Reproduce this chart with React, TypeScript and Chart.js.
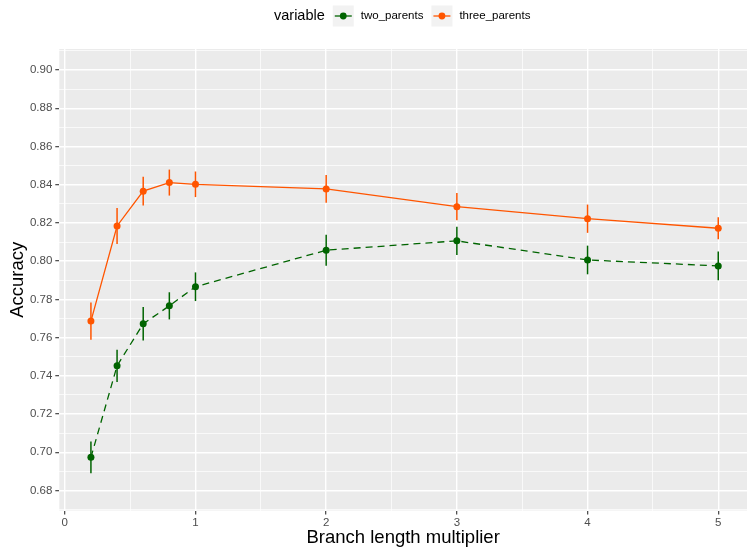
import React, { useEffect, useRef } from "react";
import { Chart, registerables } from "chart.js";

Chart.register(...registerables);

// ---- data ----
const xValues = [0.2, 0.4, 0.6, 0.8, 1, 2, 3, 4, 5];
const twoParents = [0.6973, 0.7452, 0.7672, 0.7766, 0.7866, 0.8057, 0.8106, 0.8006, 0.7975];
const twoParentsErr = [0.0083, 0.0084, 0.0088, 0.0071, 0.0075, 0.0081, 0.0074, 0.0075, 0.0075];
const threeParents = [0.7686, 0.8184, 0.8366, 0.8411, 0.8402, 0.8378, 0.8285, 0.8222, 0.8172];
const threeParentsErr = [0.0097, 0.0094, 0.0075, 0.0068, 0.0067, 0.0073, 0.0071, 0.0074, 0.0058];
const seriesNames = ["two_parents", "three_parents"];
const legendTitle = "variable";
const xTitle = "Branch length multiplier";
const yTitle = "Accuracy";
const xMajorTicks = [0, 1, 2, 3, 4, 5];
const xMinorTicks = [0.5, 1.5, 2.5, 3.5, 4.5];
const yMajorTicks = [0.68, 0.7, 0.72, 0.74, 0.76, 0.78, 0.8, 0.82, 0.84, 0.86, 0.88, 0.9];
const yMinorTicks = [0.67, 0.69, 0.71, 0.73, 0.75, 0.77, 0.79, 0.81, 0.83, 0.85, 0.87, 0.89, 0.91];

const GREEN = "#006400";
const ORANGE = "#FF5500";
const FONT = '"Liberation Sans", Arial, Helvetica, sans-serif';

const isIn = (arr: number[], v: number) => arr.some((m) => Math.abs(m - v) < 1e-9);

export default function App() {
  const ref = useRef<HTMLCanvasElement>(null);

  useEffect(() => {
    const canvas = ref.current!;
    const xTickValues = [...xMajorTicks, ...xMinorTicks].sort((a, b) => a - b);
    const yTickValues = [...yMajorTicks, ...yMinorTicks].sort((a, b) => a - b);
    const errs = [twoParentsErr, threeParentsErr];
    const colors = [GREEN, ORANGE];

    const bgPlugin = {
      id: "bg",
      beforeDraw(chart: any) {
        const { ctx, chartArea } = chart;
        ctx.save();
        ctx.fillStyle = "#FFFFFF";
        ctx.fillRect(0, 0, chart.width, chart.height);
        ctx.fillStyle = "#EBEBEB";
        ctx.fillRect(chartArea.left, chartArea.top, chartArea.right - chartArea.left, chartArea.bottom - chartArea.top);
        ctx.restore();
      },
    };

    const errorPlugin = {
      id: "errbars",
      beforeDatasetsDraw(chart: any) {
        const { ctx } = chart;
        const xs = chart.scales.x;
        const ys = chart.scales.y;
        ctx.save();
        chart.data.datasets.forEach((ds: any, i: number) => {
          ctx.strokeStyle = colors[i];
          ctx.lineWidth = 1.5;
          ctx.setLineDash([]);
          ds.data.forEach((p: any, j: number) => {
            const px = xs.getPixelForValue(p.x);
            const y1 = ys.getPixelForValue(p.y - errs[i][j]);
            const y2 = ys.getPixelForValue(p.y + errs[i][j]);
            ctx.beginPath();
            ctx.moveTo(px, y1);
            ctx.lineTo(px, y2);
            ctx.stroke();
          });
        });
        ctx.restore();
      },
    };

    const legendPlugin = {
      id: "ggLegend",
      afterDraw(chart: any) {
        const { ctx } = chart;
        const cy = 16;
        ctx.save();
        ctx.textBaseline = "middle";
        ctx.textAlign = "left";
        ctx.fillStyle = "#000000";
        ctx.font = `14.5px ${FONT}`;
        let x = 274;
        ctx.fillText(legendTitle, x, cy);
        x += ctx.measureText(legendTitle).width + 8;
        ctx.font = `11.5px ${FONT}`;
        seriesNames.forEach((name, i) => {
          ctx.fillStyle = "#F2F2F2";
          ctx.fillRect(x, cy - 10.5, 21, 21);
          ctx.strokeStyle = colors[i];
          ctx.lineWidth = 1.3;
          ctx.beginPath();
          ctx.moveTo(x + 2, cy);
          ctx.lineTo(x + 19, cy);
          ctx.stroke();
          ctx.fillStyle = colors[i];
          ctx.beginPath();
          ctx.arc(x + 10.5, cy, 3.4, 0, Math.PI * 2);
          ctx.fill();
          x += 21 + 7;
          ctx.fillStyle = "#000000";
          ctx.fillText(name, x, cy);
          x += ctx.measureText(name).width + 8;
        });
        ctx.restore();
      },
    };

    const gridOpts = (majors: number[]) => ({
      color: "#FFFFFF",
      lineWidth: (c: any) => (c.tick && isIn(majors, c.tick.value) ? 1.4 : 0.7),
      tickColor: (c: any) => (c.tick && isIn(majors, c.tick.value) ? "#333333" : "rgba(0,0,0,0)"),
      tickWidth: 1.1,
      tickLength: 4,
      drawTicks: true,
    });

    const chart = new Chart(canvas, {
      type: "line",
      data: {
        datasets: [
          {
            label: seriesNames[0],
            data: xValues.map((x, i) => ({ x, y: twoParents[i] })),
            borderColor: GREEN,
            backgroundColor: GREEN,
            borderWidth: 1.3,
            borderDash: [7, 5],
            pointRadius: 3.5,
            pointBorderWidth: 0,
            pointBackgroundColor: GREEN,
            tension: 0,
          },
          {
            label: seriesNames[1],
            data: xValues.map((x, i) => ({ x, y: threeParents[i] })),
            borderColor: ORANGE,
            backgroundColor: ORANGE,
            borderWidth: 1.3,
            pointRadius: 3.5,
            pointBorderWidth: 0,
            pointBackgroundColor: ORANGE,
            tension: 0,
          },
        ],
      },
      options: {
        responsive: false,
        animation: false,
        layout: { autoPadding: false, padding: { top: 49, left: 0, right: 0, bottom: 0 } },
        plugins: { legend: { display: false }, tooltip: { enabled: false } },
        scales: {
          x: {
            type: "linear",
            min: -0.042,
            max: 5.22,
            afterBuildTicks: (s: any) => {
              s.ticks = xTickValues.map((v) => ({ value: v }));
            },
            afterFit: (s: any) => {
              s.height = 39.5;
              s.paddingLeft = 0;
              s.paddingRight = 0;
            },
            ticks: {
              autoSkip: false,
              maxRotation: 0,
              minRotation: 0,
              padding: 1.5,
              color: "#4D4D4D",
              font: { family: FONT, size: 11.5 },
              callback: (v: any) => (isIn(xMajorTicks, Number(v)) ? String(v) : ""),
            },
            grid: gridOpts(xMajorTicks) as any,
            border: { display: false },
            title: {
              display: true,
              text: xTitle,
              color: "#000000",
              font: { family: FONT, size: 18.5 },
              padding: { top: 0, bottom: 1 },
            },
          },
          y: {
            type: "linear",
            min: 0.6695,
            max: 0.911,
            afterBuildTicks: (s: any) => {
              s.ticks = yTickValues.map((v) => ({ value: v }));
            },
            afterFit: (s: any) => {
              s.width = 59.3;
              s.paddingTop = 0;
              s.paddingBottom = 0;
            },
            ticks: {
              autoSkip: false,
              padding: 3,
              color: "#4D4D4D",
              font: { family: FONT, size: 11.5 },
              callback: (v: any) => (isIn(yMajorTicks, Number(v)) ? Number(v).toFixed(2) : ""),
            },
            grid: gridOpts(yMajorTicks) as any,
            border: { display: false },
            title: {
              display: true,
              text: yTitle,
              color: "#000000",
              font: { family: FONT, size: 18.5 },
              padding: { top: 6.5, bottom: 0 },
            },
          },
        },
      },
      plugins: [bgPlugin, errorPlugin, legendPlugin],
    } as any);

    return () => chart.destroy();
  }, []);

  return (
    <div style={{ position: "absolute", left: 0, top: 0, width: 747, height: 550 }}>
      <canvas ref={ref} width={747} height={550} />
    </div>
  );
}
